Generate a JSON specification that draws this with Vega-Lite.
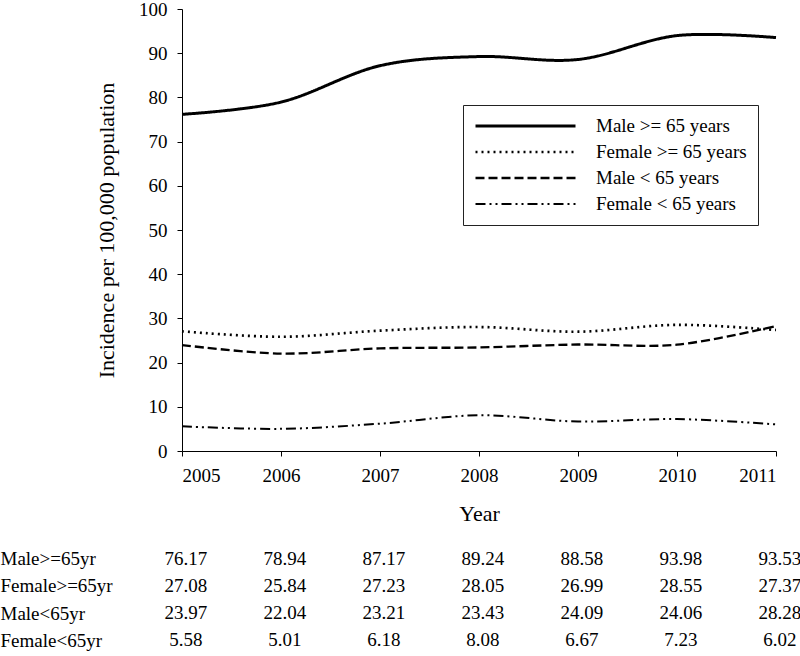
{
  "$schema": "https://vega.github.io/schema/vega-lite/v6.json",
  "background": "white",
  "padding": {"left": 0, "top": 0, "right": 0, "bottom": 0},
  "bounds": "flush",
  "spacing": 94,
  "config": {
    "view": {"stroke": null},
    "font": "Liberation Serif",
    "axis": {
      "domainColor": "black",
      "domainWidth": 1,
      "tickColor": "black",
      "tickSize": 5,
      "labelColor": "black",
      "titleColor": "black",
      "labelFont": "Liberation Serif",
      "titleFont": "Liberation Serif",
      "labelFontSize": 19,
      "titleFontSize": 22,
      "titleFontWeight": "normal",
      "grid": false
    }
  },
  "resolve": {"scale": {"x": "independent", "y": "independent"}},
  "data": {
    "values": [
      {"year": 2005, "series": "Male >= 65 years", "short": "Male>=65yr", "value": 76.17},
      {"year": 2006, "series": "Male >= 65 years", "short": "Male>=65yr", "value": 78.94},
      {"year": 2007, "series": "Male >= 65 years", "short": "Male>=65yr", "value": 87.17},
      {"year": 2008, "series": "Male >= 65 years", "short": "Male>=65yr", "value": 89.24},
      {"year": 2009, "series": "Male >= 65 years", "short": "Male>=65yr", "value": 88.58},
      {"year": 2010, "series": "Male >= 65 years", "short": "Male>=65yr", "value": 93.98},
      {"year": 2011, "series": "Male >= 65 years", "short": "Male>=65yr", "value": 93.53},
      {"year": 2005, "series": "Female >= 65 years", "short": "Female>=65yr", "value": 27.08},
      {"year": 2006, "series": "Female >= 65 years", "short": "Female>=65yr", "value": 25.84},
      {"year": 2007, "series": "Female >= 65 years", "short": "Female>=65yr", "value": 27.23},
      {"year": 2008, "series": "Female >= 65 years", "short": "Female>=65yr", "value": 28.05},
      {"year": 2009, "series": "Female >= 65 years", "short": "Female>=65yr", "value": 26.99},
      {"year": 2010, "series": "Female >= 65 years", "short": "Female>=65yr", "value": 28.55},
      {"year": 2011, "series": "Female >= 65 years", "short": "Female>=65yr", "value": 27.37},
      {"year": 2005, "series": "Male < 65 years", "short": "Male<65yr", "value": 23.97},
      {"year": 2006, "series": "Male < 65 years", "short": "Male<65yr", "value": 22.04},
      {"year": 2007, "series": "Male < 65 years", "short": "Male<65yr", "value": 23.21},
      {"year": 2008, "series": "Male < 65 years", "short": "Male<65yr", "value": 23.43},
      {"year": 2009, "series": "Male < 65 years", "short": "Male<65yr", "value": 24.09},
      {"year": 2010, "series": "Male < 65 years", "short": "Male<65yr", "value": 24.06},
      {"year": 2011, "series": "Male < 65 years", "short": "Male<65yr", "value": 28.28},
      {"year": 2005, "series": "Female < 65 years", "short": "Female<65yr", "value": 5.58},
      {"year": 2006, "series": "Female < 65 years", "short": "Female<65yr", "value": 5.01},
      {"year": 2007, "series": "Female < 65 years", "short": "Female<65yr", "value": 6.18},
      {"year": 2008, "series": "Female < 65 years", "short": "Female<65yr", "value": 8.08},
      {"year": 2009, "series": "Female < 65 years", "short": "Female<65yr", "value": 6.67},
      {"year": 2010, "series": "Female < 65 years", "short": "Female<65yr", "value": 7.23},
      {"year": 2011, "series": "Female < 65 years", "short": "Female<65yr", "value": 6.02}
    ]
  },
  "vconcat": [
    {
      "width": 594,
      "height": 442,
      "mark": {"type": "line", "interpolate": "cardinal", "color": "black"},
      "encoding": {
        "x": {
          "field": "year",
          "type": "quantitative",
          "scale": {"domain": [2005, 2011], "nice": false, "zero": false},
          "axis": {
            "values": [2005, 2006, 2007, 2008, 2009, 2010, 2011],
            "format": "d",
            "title": "Year",
            "labelPadding": 10,
            "titlePadding": 18
          }
        },
        "y": {
          "field": "value",
          "type": "quantitative",
          "scale": {"domain": [0, 100], "nice": false},
          "axis": {
            "values": [0, 10, 20, 30, 40, 50, 60, 70, 80, 90, 100],
            "title": "Incidence per 100,000 population",
            "labelPadding": 10,
            "titlePadding": 20
          }
        },
        "strokeDash": {
          "field": "series",
          "type": "nominal",
          "scale": {
            "domain": ["Male >= 65 years", "Female >= 65 years", "Male < 65 years", "Female < 65 years"],
            "range": [[1, 0], [2, 4], [9, 4], [10, 4, 2, 4, 2, 4]]
          },
          "legend": {
            "orient": "none",
            "legendX": 281,
            "legendY": 96,
            "title": null,
            "symbolType": "stroke",
            "symbolSize": 10000,
            "symbolStrokeColor": "black",
            "symbolStrokeWidth": 2.5,
            "symbolOffset": 0,
            "clipHeight": 20,
            "rowPadding": 6,
            "labelOffset": 19,
            "labelFont": "Liberation Serif",
            "labelFontSize": 19,
            "labelColor": "black",
            "padding": 11,
            "strokeColor": "#222222",
            "fillColor": "white"
          }
        },
        "strokeWidth": {
          "field": "series",
          "type": "nominal",
          "scale": {
            "domain": ["Male >= 65 years", "Female >= 65 years", "Male < 65 years", "Female < 65 years"],
            "range": [3, 2, 3, 2.5]
          },
          "legend": null
        }
      }
    },
    {
      "width": 594,
      "height": 109,
      "mark": {"type": "text", "font": "Liberation Serif", "fontSize": 19, "color": "black"},
      "encoding": {
        "x": {
          "field": "year",
          "type": "quantitative",
          "scale": {"domain": [2004.96, 2010.96], "nice": false, "zero": false},
          "axis": null
        },
        "y": {
          "field": "short",
          "type": "nominal",
          "sort": ["Male>=65yr", "Female>=65yr", "Male<65yr", "Female<65yr"],
          "scale": {"paddingInner": 0, "paddingOuter": 0},
          "axis": {
            "title": null,
            "domain": false,
            "ticks": false,
            "tickSize": 0,
            "labelAlign": "left",
            "labelBaseline": "middle",
            "labelPadding": 182,
            "labelFontSize": 19
          }
        },
        "text": {"field": "value", "type": "quantitative", "format": ".2f"}
      }
    }
  ]
}
